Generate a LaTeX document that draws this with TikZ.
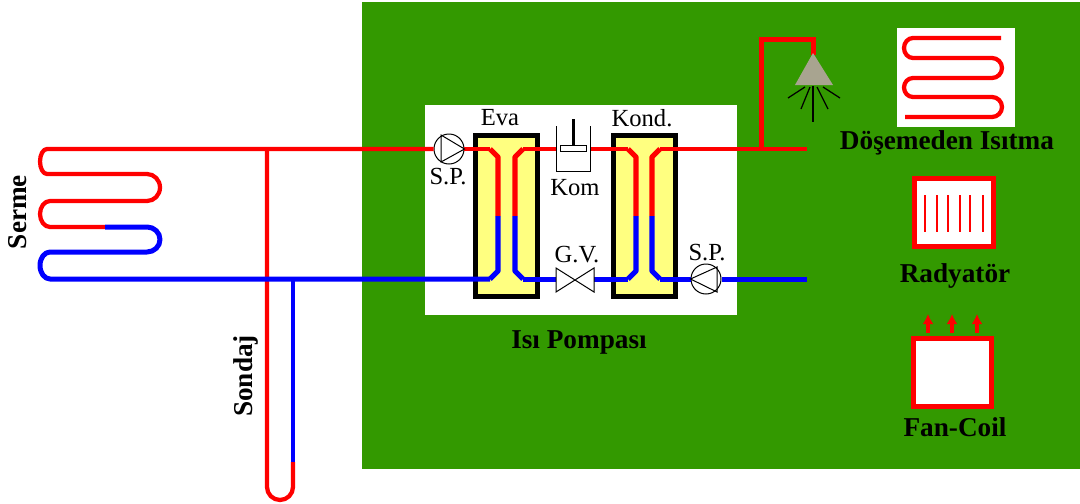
\documentclass[tikz,border=0pt]{standalone}
\usepackage{fontspec}
\setmainfont{Liberation Serif}
\usetikzlibrary{arrows.meta}
\definecolor{ground}{HTML}{339900}
\definecolor{tank}{HTML}{FFFF80}
\definecolor{nozzle}{HTML}{A8A490}
\definecolor{hot}{HTML}{FF0000}
\definecolor{cold}{HTML}{0000FF}
\tikzset{hotpipe/.style={draw=hot,line width=0.085cm,line join=round}}
\tikzset{coldpipe/.style={draw=cold,line width=0.1cm,line join=round}}
\tikzset{tankpipe/.style={line width=0.105cm,line join=round}}
\tikzset{tankbox/.style={draw=black,fill=tank,line width=0.1cm,minimum width=1.26cm,minimum height=3.24cm,inner sep=0pt}}
\tikzset{pumpring/.style={circle,draw=black,fill=white,line width=0.02cm,minimum size=0.6cm,inner sep=0pt}}
\tikzset{redbox/.style={draw=hot,line width=0.1cm,fill=white,inner sep=0pt}}
\tikzset{thinlabel/.style={inner sep=0pt,font=\fontsize{14}{15}\selectfont}}
\tikzset{boldlabel/.style={inner sep=0pt,font=\fontsize{15.5}{16}\selectfont\bfseries}}
\begin{document}
\begin{tikzpicture}[x=0.02cm,y=-0.02cm]
	\useasboundingbox (0,0) rectangle (1080,504);
	\fill [ground] (362,2) rectangle (1080,469);
	\fill [white] (425,105) rectangle (737,315);
	%tanks
	\node [tankbox] (eva) at (506.5,216) {};
	\node [tankbox] (kond) at (644.5,216) {};
	%machines sit on the pipes
	\node [pumpring] (pumpin) at (449,149) {};
	\node [pumpring] (pumpout) at (706,279) {};
	\coordinate (komin) at (556,149);
	\coordinate (komout) at (590,149);
	\coordinate (valvein) at (556,279);
	\coordinate (valveout) at (594,279);
	%sondaj
	\draw [hotpipe] (267,149) -- (267,487) arc[start angle=180,end angle=0,x radius=13,y radius=13] -- (293,462);
	\draw [coldpipe,line width=0.085cm] (293,279) -- (293,462);
	%serme coil, hot side
	\draw [hotpipe] (pumpin.west) -- (47,149) arc[start angle=270,end angle=90,x radius=7,y radius=12.5] -- (147,174) arc[start angle=270,end angle=450,x radius=13,y radius=13.5] -- (50,201) arc[start angle=270,end angle=90,x radius=10,y radius=13] -- (105,227);
	%serme coil, cold side
	\draw [coldpipe] (105,227) -- (147,227) arc[start angle=270,end angle=450,x radius=13,y radius=12.5] -- (50,252) arc[start angle=270,end angle=90,x radius=10,y radius=13.5] -- (490,279);
	%eva pipes
	\draw [hotpipe] (pumpin.east) -- (490,149);
	\draw [hot,tankpipe] (490,149) -- (498,157) -- (498,216);
	\draw [cold,tankpipe] (490,279) -- (498,271) -- (498,216);
	\draw [hotpipe] (komin) -- (523,149);
	\draw [hot,tankpipe] (523,149) -- (515,157) -- (515,216);
	\draw [coldpipe] (valvein) -- (523,279);
	\draw [cold,tankpipe] (523,279) -- (515,271) -- (515,216);
	%kond pipes
	\draw [hotpipe] (komout) -- (628,149);
	\draw [hot,tankpipe] (628,149) -- (636,157) -- (636,216);
	\draw [coldpipe] (valveout) -- (628,279);
	\draw [cold,tankpipe] (628,279) -- (636,271) -- (636,216);
	\draw [hotpipe] (807,149) -- (660,149);
	\draw [hot,tankpipe] (660,149) -- (652,157) -- (652,216);
	\draw [coldpipe] (pumpout.west) -- (660,279);
	\draw [cold,tankpipe] (660,279) -- (652,271) -- (652,216);
	\draw [coldpipe] (pumpout.east) -- (807,279);
	%pump triangles
	\draw [line width=0.02cm] (441,135) -- (441,162) -- (pumpin.east) -- cycle;
	\draw [line width=0.02cm] (pumpout.west) -- (717,267) -- (717,292) -- cycle;
	%compressor
	\draw [line width=0.02cm] (komin |- 0,126) -- (556,171) -- (590,171) -- (590,126);
	\draw [line width=0.02cm,fill=white] (560,145) rectangle (586,151);
	\draw [line width=0.06cm] (573,119) -- (573,145);
	%valve
	\draw [line width=0.02cm,fill=white] (556,268) -- (594,292) -- (594,268) -- (556,292) -- cycle;
	%shower
	\draw [hotpipe,line width=0.1cm,line join=miter] (761,149) -- (761,39) -- (813,39) -- (813,55);
	\fill [nozzle] (813,53) -- (833,85) -- (795,85) -- cycle;
	\draw [line width=0.025cm] (813,86) -- (813,122);
	\draw [line width=0.025cm] (810,87) -- (801,109);
	\draw [line width=0.025cm] (817,87) -- (828,109);
	\draw [line width=0.025cm] (805,87) -- (788,98);
	\draw [line width=0.025cm] (823,87) -- (840,98);
	%floor heating
	\fill [white] (897,28) rectangle (1015,127);
	\draw [hotpipe] (1001,38) -- (913,38) arc[start angle=270,end angle=90,x radius=9,y radius=10] -- (992,58) arc[start angle=270,end angle=450,x radius=10,y radius=10] -- (913,78) arc[start angle=270,end angle=90,x radius=9,y radius=9.5] -- (992,97) arc[start angle=270,end angle=450,x radius=10,y radius=10] -- (905,117);
	%radiator
	\draw [redbox] (914.5,178.5) rectangle (993.5,246.5);
	\foreach \finx in {925,937,948,960,970,983}
		\draw [hot,line width=0.03cm] (\finx,195) -- (\finx,232);
	%fan coil
	\draw [redbox] (913.5,338.5) rectangle (991.5,406.5);
	\foreach \fanx in {928,952,977}
		\draw [hot,line width=0.07cm,-{Latex[width=0.22cm,length=0.2cm]}] (\fanx,333) -- (\fanx,314);
	%labels
	\node [thinlabel] (evatext) at (500,118) {Eva};
	\node [thinlabel] (kondtext) at (642,118) {Kond.};
	\node [thinlabel] (spintext) at (448,177) {S.P.};
	\node [thinlabel] (komtext) at (575,188) {Kom};
	\node [thinlabel] (gvtext) at (577,255) {G.V.};
	\node [thinlabel] (spouttext) at (707,253) {S.P.};
	\node [boldlabel] (isitext) at (947,143) {Döşemeden Isıtma};
	\node [boldlabel] (radtext) at (955,276) {Radyatör};
	\node [boldlabel] (fantext) at (955,427) {Fan-Coil};
	\node [boldlabel] (pompatext) at (579,342) {Isı Pompası};
	\node [boldlabel,rotate=90] (sermetext) at (18,212) {Serme};
	\node [boldlabel,rotate=90] (sondajtext) at (246,376) {Sondaj};
\end{tikzpicture}
\end{document}
